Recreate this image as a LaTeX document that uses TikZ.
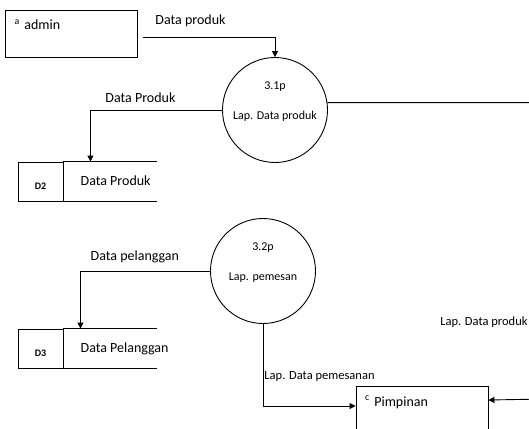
\documentclass[tikz,border=0pt]{standalone}
\usepackage{fontspec}
\setmainfont{Carlito}
\usetikzlibrary{positioning}
\usetikzlibrary{arrows.meta}

\begin{document}
\begin{tikzpicture}[
    x=1pt, y=-1pt,
    entity/.style={rectangle, draw, line width=0.9pt, minimum width=132pt, text width=114pt, inner xsep=9pt, inner ysep=0pt, text height=20pt, text depth=27pt, align=left, font=\fontsize{14}{17}\selectfont},
    process/.style={circle, draw, line width=0.9pt, minimum size=105pt, inner sep=0pt},
    proctext/.style={inner sep=0pt, font=\fontsize{12}{14}\selectfont},
    storeid/.style={rectangle, draw, line width=0.9pt, minimum width=45pt, inner sep=0pt, text height=27pt, text depth=12pt, font=\fontsize{10}{12}\selectfont\bfseries},
    storename/.style={inner sep=0pt, text height=23.5pt, text depth=15.5pt, font=\fontsize{14}{17}\selectfont},
    flow/.style={-{Triangle[length=6pt, width=6pt]}, line width=0.9pt},
    flowlabel/.style={inner sep=0pt, font=\fontsize{14}{17}\selectfont},
    smalllabel/.style={inner sep=0pt, font=\fontsize{12.5}{14}\selectfont}
]
\useasboundingbox (0,0) rectangle (529,428);
\clip (0,0) rectangle (529,428);

% Entities
\node[entity] (admin) at (71.5,33.5) {\textsuperscript{a} admin};
\node[entity] (pimpinan) at (422,409.5) {\textsuperscript{c} Pimpinan};

% Processes
\node[process] (p31) at (275,110) {};
\node[proctext] (p31id) at ([yshift=23pt]p31.center) {3.1p};
\node[proctext] (p31name) at ([yshift=-6pt]p31.center) {Lap. Data produk};
\node[process] (p32) at (263,271) {};
\node[proctext] (p32id) at ([yshift=23pt]p32.center) {3.2p};
\node[proctext] (p32name) at ([yshift=-7pt]p32.center) {Lap. pemesan};

% Data stores
\node[storeid] (d2) at (40.5,181.5) {D2};
\node[storename, right=17pt of d2] (d2name) {Data Produk};
\draw[line width=0.9pt] (d2.north east) -- ++(94,0);
\draw[line width=0.9pt] (d2.south east) -- ++(94,0);
\node[storeid] (d3) at (40.5,348.5) {D3};
\node[storename, right=17pt of d3] (d3name) {Data Pelanggan};
\draw[line width=0.9pt] (d3.north east) -- ++(94,0);
\draw[line width=0.9pt] (d3.south east) -- ++(94,0);

% Turn points off the right edge
\coordinate (rtop) at (545,102.6);
\coordinate (rbot) at (545,399);

% Data flows
\draw[flow] ([xshift=5pt, yshift=-4pt]admin.east) -| (p31.north) node[flowlabel, pos=0.18, above=10pt] {Data produk};
\draw[flow] (p31.west) -| ([xshift=27pt]d2.north east) node[flowlabel, pos=0.31, above=7pt] {Data Produk};
\draw[flow] (p32.west) -| ([xshift=17pt]d3.north east) node[flowlabel, pos=0.29, above=8pt] {Data pelanggan};
\draw[flow] (p32.south) |- ([yshift=3.5pt]pimpinan.west) node[smalllabel, pos=0.32, right=1pt] {Lap. Data pemesanan};
\draw[flow] (p31.8) -- (rtop) -- node[smalllabel, pos=0.74, left=17pt] {Lap. Data produk} (rbot) -- ([yshift=9.5pt]pimpinan.east);

\end{tikzpicture}
\end{document}
